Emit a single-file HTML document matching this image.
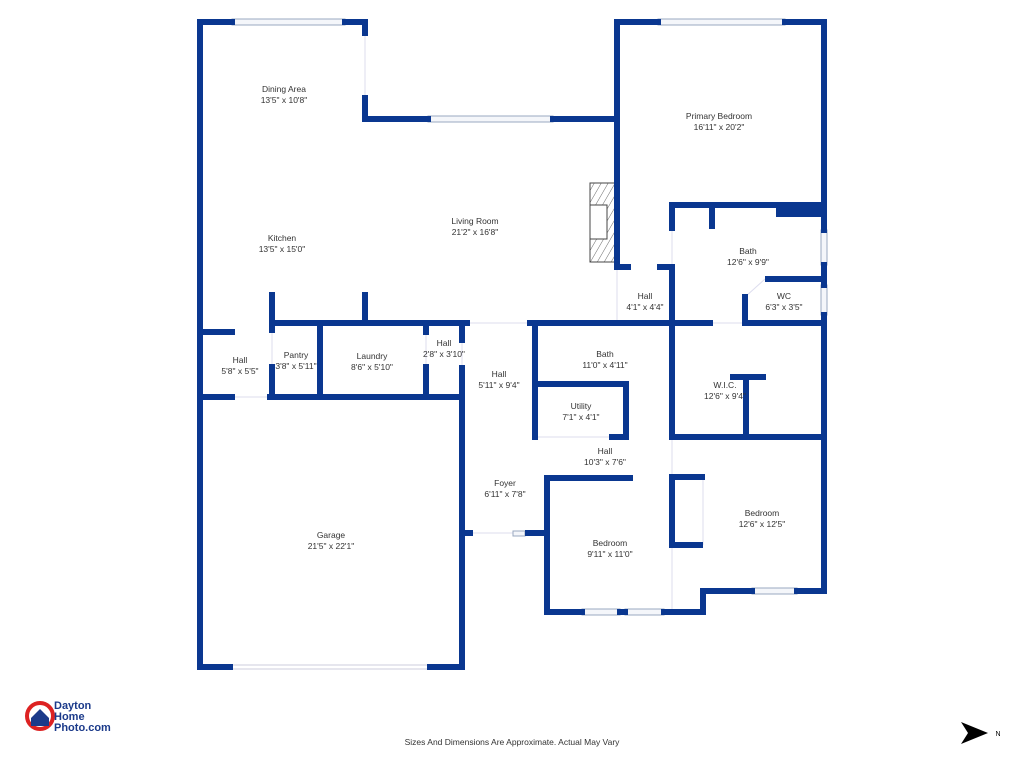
<!DOCTYPE html>
<html><head><meta charset="utf-8"><style>
html,body{margin:0;padding:0;background:#fff;width:1024px;height:768px;overflow:hidden}
svg{position:absolute;left:0;top:0}
text{font-family:"Liberation Sans",sans-serif;fill:#333;font-size:8.5px;text-anchor:middle}
</style></head><body>
<svg width="1024" height="768" viewBox="0 0 1024 768">
<defs>
<pattern id="h" width="6" height="6" patternUnits="userSpaceOnUse" patternTransform="rotate(30)"><line x1="0" y1="0" x2="0" y2="6" stroke="#444" stroke-width="0.8"/></pattern>
</defs>
<g stroke="#dde" stroke-width="1" fill="none">
<line x1="365" y1="33" x2="365" y2="98"/>
<line x1="272" y1="330" x2="272" y2="367"/>
<line x1="232" y1="397" x2="270" y2="397"/>
<line x1="467" y1="323" x2="530" y2="323"/>
<line x1="470" y1="533" x2="528" y2="533"/>
<line x1="535" y1="437" x2="612" y2="437"/>
<line x1="672" y1="437" x2="672" y2="477"/>
<line x1="710" y1="323" x2="745" y2="323"/>
<line x1="617" y1="265" x2="617" y2="323"/>
<line x1="462" y1="340" x2="462" y2="368"/>
<line x1="703" y1="480" x2="703" y2="545"/>
<line x1="672" y1="548" x2="672" y2="612"/>
<line x1="672" y1="228" x2="672" y2="265"/>
<line x1="426" y1="332" x2="426" y2="367"/>
<line x1="745" y1="297" x2="765" y2="279"/>
</g>
<g fill="#f4f6fa" stroke="#9aa8c0" stroke-width="1">
<rect x="232" y="19" width="113" height="6"/>
<rect x="428" y="116" width="125" height="6"/>
<rect x="658" y="19" width="127" height="6"/>
<rect x="821" y="230" width="6" height="35"/>
<rect x="821" y="285" width="6" height="30"/>
<rect x="582" y="609" width="38" height="6"/>
<rect x="625" y="609" width="39" height="6"/>
<rect x="752" y="588" width="45" height="6"/>
<rect x="230" y="665" width="200" height="4" fill="#fff" stroke="#ccd"/>
<rect x="513" y="531" width="12" height="5"/>
</g>
<rect x="590" y="183" width="26" height="79" fill="url(#h)" stroke="#444" stroke-width="1"/>
<rect x="590" y="205" width="17" height="34" fill="#fff" stroke="#444" stroke-width="1"/>
<g stroke="#0a3790" stroke-width="6" stroke-linecap="square" fill="none">
<path d="M200 22 H232 M345 22 H365 V33"/>
<path d="M365 98 V119 H428 M553 119 H617"/>
<path d="M200 22 V667 H230 M430 667 H462 V533 H470"/>
<path d="M617 22 V265 M617 22 H658 M785 22 H824 V230 M824 265 V285 M824 315 V591 H797 M752 591 H703 V612 H664 M620 612 H625 M582 612 H547 V478 M547 533 H528"/>
<path d="M672 205 V228 M672 205 H822 M712 205 V226"/>
<path d="M617 267 H628 M660 267 H672 V437 H822"/>
<path d="M200 332 H232 M272 323 H467 M530 323 H710 M745 323 H822"/>
<path d="M272 295 V330 M272 367 V397 M365 295 V323 M320 323 V397 M426 323 V332 M426 367 V397 M462 323 V340 M462 368 V533"/>
<path d="M200 397 H232 M270 397 H462"/>
<path d="M535 323 V437 M535 384 H626 V437 H612"/>
<path d="M733 377 H763 M746 377 V437"/>
<path d="M768 279 H822 M745 297 V323"/>
<path d="M548 478 H630 M672 477 V545 H700 M672 477 H702"/>
</g>
<rect x="776" y="202" width="46" height="15" fill="#0a3790"/>
<text x="284" y="92">Dining Area</text><text x="284" y="103">13'5" x 10'8"</text>
<text x="282" y="241">Kitchen</text><text x="282" y="252">13'5" x 15'0"</text>
<text x="475" y="224">Living Room</text><text x="475" y="235">21'2" x 16'8"</text>
<text x="719" y="119">Primary Bedroom</text><text x="719" y="130">16'11" x 20'2"</text>
<text x="748" y="254">Bath</text><text x="748" y="265">12'6" x 9'9"</text>
<text x="784" y="299">WC</text><text x="784" y="310">6'3" x 3'5"</text>
<text x="645" y="299">Hall</text><text x="645" y="310">4'1" x 4'4"</text>
<text x="240" y="363">Hall</text><text x="240" y="374">5'8" x 5'5"</text>
<text x="296" y="358">Pantry</text><text x="296" y="369">3'8" x 5'11"</text>
<text x="372" y="359">Laundry</text><text x="372" y="370">8'6" x 5'10"</text>
<text x="444" y="346">Hall</text><text x="444" y="357">2'8" x 3'10"</text>
<text x="499" y="377">Hall</text><text x="499" y="388">5'11" x 9'4"</text>
<text x="605" y="357">Bath</text><text x="605" y="368">11'0" x 4'11"</text>
<text x="581" y="409">Utility</text><text x="581" y="420">7'1" x 4'1"</text>
<text x="725" y="388">W.I.C.</text><text x="725" y="399">12'6" x 9'4"</text>
<text x="605" y="454">Hall</text><text x="605" y="465">10'3" x 7'6"</text>
<text x="505" y="486">Foyer</text><text x="505" y="497">6'11" x 7'8"</text>
<text x="762" y="516">Bedroom</text><text x="762" y="527">12'6" x 12'5"</text>
<text x="610" y="546">Bedroom</text><text x="610" y="557">9'11" x 11'0"</text>
<text x="331" y="538">Garage</text><text x="331" y="549">21'5" x 22'1"</text>
<text x="512" y="745">Sizes And Dimensions Are Approximate. Actual May Vary</text>
<circle cx="40" cy="716" r="13" fill="none" stroke="#d22" stroke-width="4"/>
<path d="M31 718 L40 709 L49 718 V726 H31 Z" fill="#1b3a8a"/>
<text x="54" y="709" style="font-size:11px;font-weight:bold;fill:#1b3a8a;text-anchor:start">Dayton</text>
<text x="54" y="720" style="font-size:11px;font-weight:bold;fill:#1b3a8a;text-anchor:start">Home</text>
<text x="54" y="731" style="font-size:11px;font-weight:bold;fill:#1b3a8a;text-anchor:start">Photo.com</text>
<path d="M961 722 L988 733 L961 744 L968 733 Z" fill="#000"/>
<text x="998" y="736" style="font-size:7px;fill:#000">N</text>
</svg>
</body></html>
